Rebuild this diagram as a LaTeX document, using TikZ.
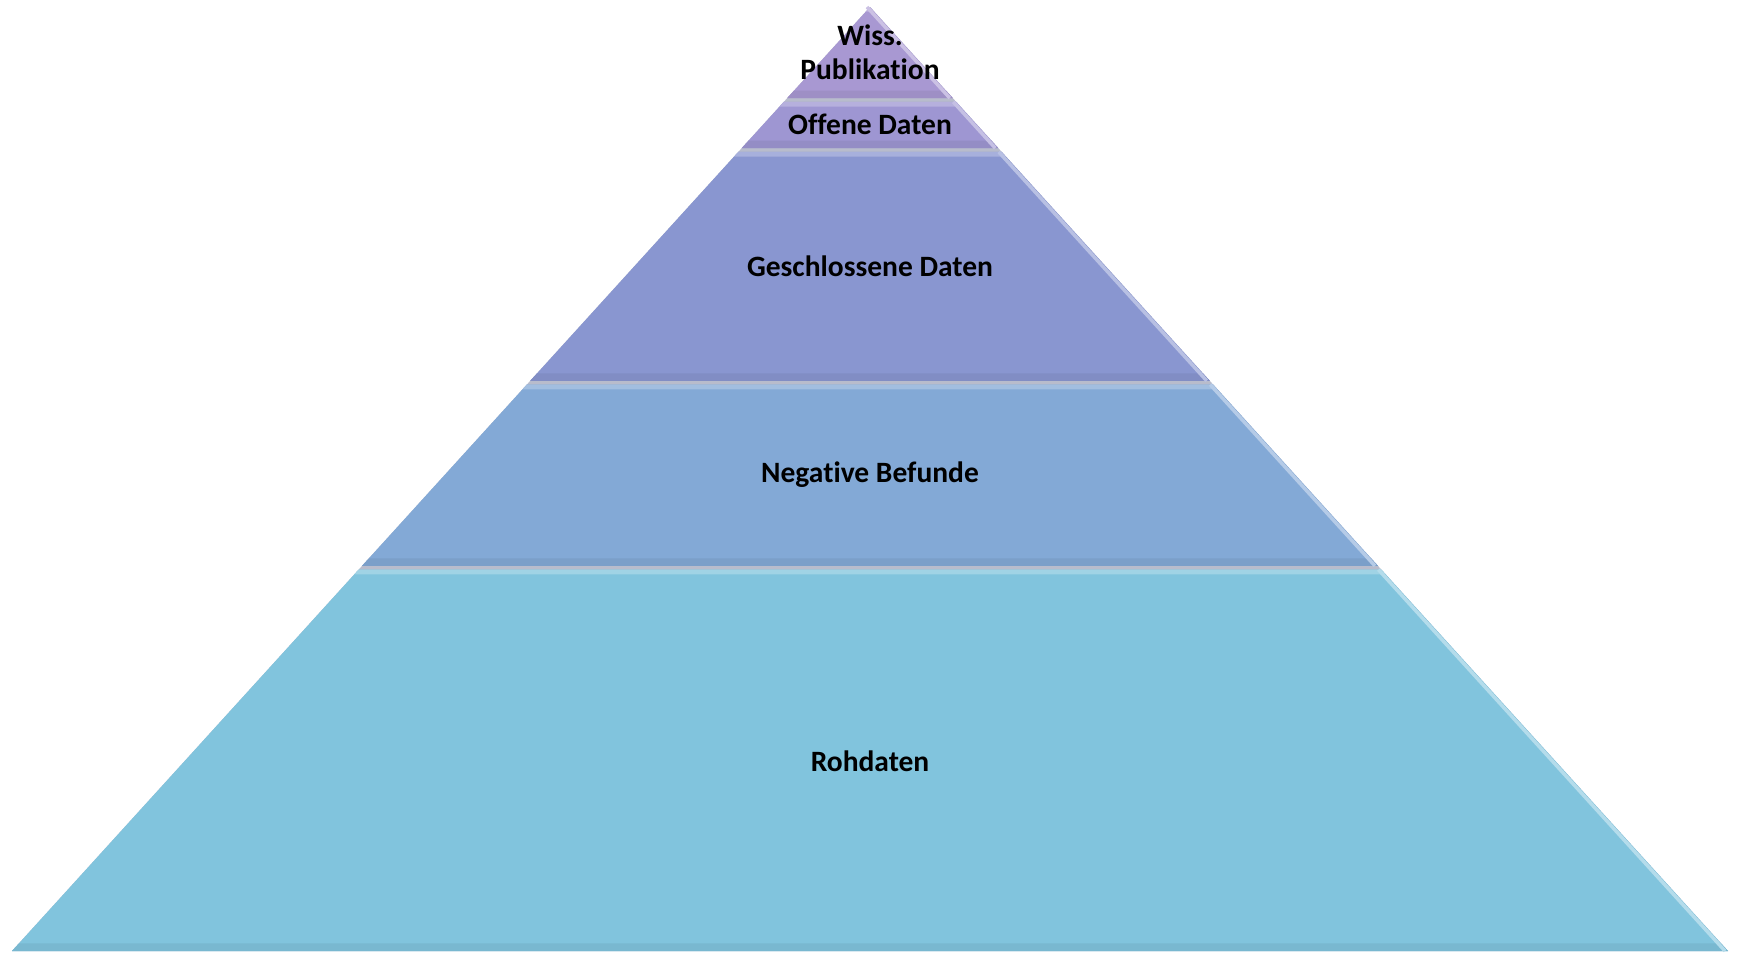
\documentclass[tikz,border=0pt]{standalone}
\usepackage{fontspec}
\setmainfont[Ligatures={NoCommon}]{Carlito}
\usetikzlibrary{calc}

\definecolor{wisscol}{RGB}{168,152,210}
\definecolor{offcol}{RGB}{158,150,210}
\definecolor{geschcol}{RGB}{137,150,208}
\definecolor{negcol}{RGB}{131,169,214}
\definecolor{rohcol}{RGB}{129,196,221}
\definecolor{gapcol}{RGB}{184,188,204}

\tikzset{
  layertext/.style={font=\bfseries\fontsize{16.8}{19.5}\selectfont, align=center, text=black},
}

\begin{document}
\begin{tikzpicture}[x=0.02cm,y=-0.02cm]
  \useasboundingbox (0,0) rectangle (1743,954);

  % Outline of the pyramid
  \coordinate (apex) at (870,7);
  \coordinate (bl) at (12,951);
  \coordinate (br) at (1728,951);
  \fill[gapcol] (apex) -- (bl) -- (br) -- cycle;

  % Layers: top / bottom (fraction of the edge) / colour
  \foreach \ta/\tb/\col in {0/0.0965/wisscol, 0.1005/0.1495/offcol,
      0.1535/0.396/geschcol, 0.400/0.592/negcol, 0.596/1/rohcol}{
    \pgfmathsetmacro{\tl}{\ta+0.005}
    \pgfmathsetmacro{\tm}{\tb-0.008}
    \fill[\col] ($(apex)!\ta!(bl)$) -- ($(apex)!\tb!(bl)$)
      -- ($(apex)!\tb!(br)$) -- ($(apex)!\ta!(br)$) -- cycle;
    % light top strip
    \fill[\col!75!white] ($(apex)!\ta!(bl)$) -- ($(apex)!\tl!(bl)$)
      -- ($(apex)!\tl!(br)$) -- ($(apex)!\ta!(br)$) -- cycle;
    % soft dark bottom strip
    \fill[\col!94!black] ($(apex)!\tm!(bl)$) -- ($(apex)!\tb!(bl)$)
      -- ($(apex)!\tb!(br)$) -- ($(apex)!\tm!(br)$) -- cycle;
    % glossy right edge
    \draw[\col!60!white, line width=2pt]
      ($(apex)!\ta!(br)+(-3,0)$) -- ($(apex)!\tb!(br)+(-3,0)$);
  }

  % Labels
  \node[layertext] (wiss) at (870,52) {Wiss.\\Publikation};
  \node[layertext] (offen) at (870,124) {Offene Daten};
  \node[layertext] (gesch) at (870,266) {Geschlossene Daten};
  \node[layertext] (neg) at (870,475) {Negative Befunde};
  \node[layertext] (roh) at (870,761) {Rohdaten};
\end{tikzpicture}
\end{document}
